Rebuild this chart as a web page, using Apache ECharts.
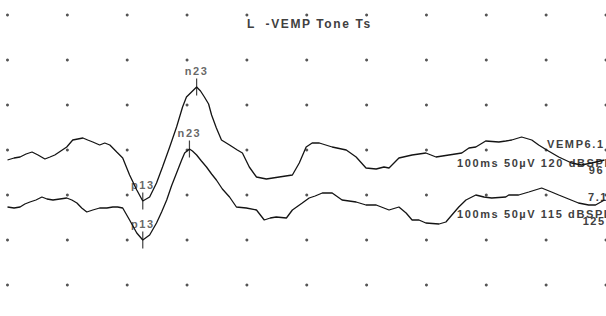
<!DOCTYPE html>
<html>
<head>
<meta charset="utf-8">
<script src="https://cdn.jsdelivr.net/npm/echarts@6/dist/echarts.min.js"></script>
<style>
  html, body { margin: 0; padding: 0; background: #fff; }
  #vemp { width: 606px; height: 316px; }
  /* 原图的字有字间距 */
  #vemp text { letter-spacing: 1.6px; }
</style>
</head>
<body>
<div id="vemp"></div>
<script>
// 时间 ms（刺激前 10 ms），幅度以网格为单位（每格 45）
const timeTicks = [-10, 0, 10, 20, 30, 40, 50, 60, 70, 80, 90];
const ampTicks = [135, 90, 45, 0, -45, -90, -135];

const titleText = "L  -VEMP Tone Ts";
const traceNames = ["VEMP6.1", "7.1"];
const traceSettings = ["100ms 50µV 120 dBSPL", "100ms 50µV 115 dBSPL"];
const traceSweeps = ["96", "125"];
const peakNames = ["p13", "n23"];

// 上面那条 120 dB
const trace120 = [
  [-10.0, -10], [-8.9, -8], [-7.9, -7], [-6.9, -4], [-5.9, -2], [-4.9, -5],
  [-3.75, -9], [-2.9, -7], [-2.1, -5], [-1.1, -1], [-0.1, 3], [0.9, 10],
  [1.75, 11], [2.6, 12], [3.4, 10], [4.25, 8], [5.4, 5], [6.25, 7],
  [7.1, 5], [8.25, -2], [9.25, -8], [10.4, -25], [11.6, -40], [12.6, -51],
  [13.75, -47], [14.9, -33], [15.9, -17], [17.1, 3], [18.25, 23], [19.25, 43],
  [19.9, 53], [20.75, 58], [21.6, 63], [22.25, 59], [22.9, 53], [23.6, 46],
  [24.1, 35], [24.9, 22], [25.75, 10], [27.1, 5], [28.4, 0], [29.25, -3],
  [30.4, -17], [31.6, -27], [33.25, -29], [35.4, -27], [37.6, -25], [38.75, -13],
  [39.9, 3], [40.9, 7], [42.1, 7], [44.25, 3], [46.6, 0], [48.25, -7],
  [49.9, -18], [51.6, -19], [52.9, -17], [53.75, -18], [55.4, -8], [57.6, -5],
  [59.9, -3], [61.6, -7], [63.75, -5], [65.9, -3], [67.1, 2], [68.25, 3],
  [69.9, 9], [72.1, 8], [73.25, 9], [74.25, 10], [75.9, 13], [77.6, 10],
  [78.75, 5], [80.1, 0], [82.1, -7], [84.25, -13], [85.9, -15], [87.6, -13],
  [89.75, -10]
];

// 下面那条 115 dB
const trace115 = [
  [-10.0, -57], [-8.9, -58], [-7.9, -57], [-7.1, -54], [-6.25, -52], [-5.25, -50],
  [-4.25, -47], [-3.4, -49], [-2.4, -50], [-1.25, -49], [-0.1, -48], [0.75, -50],
  [1.6, -53], [2.4, -58], [3.25, -62], [4.25, -60], [5.4, -58], [6.6, -58],
  [7.6, -57], [8.4, -57], [9.25, -58], [10.4, -70], [11.6, -83], [12.6, -90],
  [13.75, -85], [14.9, -73], [15.75, -62], [16.6, -50], [17.4, -36], [18.25, -23],
  [19.1, -10], [19.6, -3], [20.4, 1], [20.9, -1], [21.6, -5], [22.4, -11],
  [23.25, -17], [24.1, -24], [24.9, -30], [25.9, -39], [27.1, -47], [28.25, -57],
  [29.9, -58], [31.6, -60], [32.9, -70], [33.9, -68], [34.9, -67], [36.6, -68],
  [37.6, -60], [39.25, -53], [40.4, -48], [41.4, -46], [42.6, -43], [44.25, -43],
  [45.9, -50], [48.25, -52], [49.9, -55], [51.6, -55], [53.75, -60], [55.4, -57],
  [56.6, -63], [57.6, -70], [58.75, -70], [59.9, -73], [62.1, -74], [63.25, -72],
  [64.25, -65], [65.4, -57], [66.6, -50], [68.25, -45], [69.6, -47], [70.9, -48],
  [73.25, -47], [73.75, -45], [75.4, -45], [77.1, -42], [79.25, -38], [80.9, -42],
  [82.1, -45], [83.75, -49], [85.4, -53], [87.1, -55], [88.25, -55], [89.75, -50]
];

// 峰值标记 [时间, 幅度]，顺序同 peakNames
const peaks120 = [[12.6, -51], [21.6, 63]];
const peaks115 = [[12.6, -90], [20.4, 1]];

const gridDots = [];
timeTicks.forEach(function (t) {
  ampTicks.forEach(function (a) {
    gridDots.push([t, a]);
  });
});

function peakData(peaks) {
  return peaks.map(function (p, i) {
    return { name: peakNames[i], value: p };
  });
}

const inkColor = "#141414";
const textColor = "#404040";
const textFont = {
  fontFamily: "Liberation Sans",
  fontSize: 11,
  fontWeight: "bold",
  fill: textColor,
};

function note(text, pos, size) {
  const style = Object.assign({ text: text }, textFont);
  if (size) style.fontSize = size;
  return Object.assign({ type: "text", style: style }, pos);
}

const myChart = echarts.init(document.getElementById("vemp"), null, { renderer: "svg" });
const option = {
  animation: false,
  backgroundColor: "#fff",
  grid: { left: 7.5, top: 0, width: 600, height: 300 },
  xAxis: {
    type: "value",
    min: -10,
    max: 90,
    show: false,
  },
  yAxis: {
    type: "value",
    min: -150,
    max: 150,
    show: false,
  },
  graphic: [
    note(titleText, { left: 247, top: 18 }, 12),
    note(traceNames[0], { left: 547, top: 138 }),
    note(traceSettings[0], { left: 457, top: 157 }),
    note(traceSweeps[0], { right: 5, top: 164 }),
    note(traceNames[1], { left: 588, top: 191 }),
    note(traceSettings[1], { left: 457, top: 208 }),
    note(traceSweeps[1], { right: 5, top: 215 }),
  ],
  series: [
    {
      name: "grid",
      type: "scatter",
      symbol: "circle",
      symbolSize: 3,
      silent: true,
      itemStyle: { color: "#2a2a2a" },
      data: gridDots,
    },
    {
      name: "120 dB",
      type: "line",
      symbol: "none",
      lineStyle: { color: inkColor, width: 1.3 },
      data: trace120,
    },
    {
      name: "115 dB",
      type: "line",
      symbol: "none",
      lineStyle: { color: inkColor, width: 1.3 },
      data: trace115,
    },
    {
      name: "peaks",
      type: "scatter",
      symbol: "rect",
      symbolSize: [1.2, 17],
      itemStyle: { color: inkColor },
      label: {
        show: true,
        position: "top",
        distance: 2,
        formatter: "{b}",
        fontFamily: "Liberation Sans",
        fontSize: 11,
        fontWeight: "bold",
        color: textColor,
      },
      data: peakData(peaks120).concat(peakData(peaks115)),
    },
  ],
};
myChart.setOption(option);
</script>
</body>
</html>
